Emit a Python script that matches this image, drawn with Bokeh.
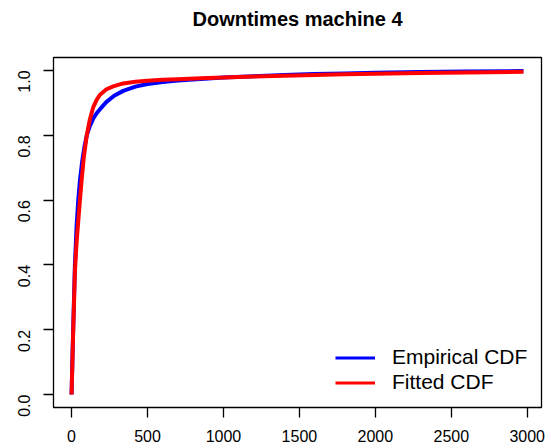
import math
from bokeh.plotting import figure
from bokeh.models import Range1d, FixedTicker, Legend, LegendItem, Title
from bokeh.embed import file_html
from bokeh.resources import INLINE

# Empirical CDF (blue)
emp_x = [0, 5, 11, 22, 33, 44, 55, 70, 85, 100, 120, 143, 165, 190, 230, 280, 340,
         420, 500, 600, 700, 850, 1000, 1200, 1400, 1600, 1800, 2000, 2300, 2600, 2975]
emp_y = [0.0, 0.10, 0.21, 0.40, 0.52, 0.60, 0.66, 0.72, 0.765, 0.80, 0.828, 0.852, 0.868,
         0.882, 0.903, 0.922, 0.937, 0.950, 0.958, 0.964, 0.969, 0.974, 0.978, 0.982,
         0.986, 0.989, 0.991, 0.993, 0.995, 0.997, 0.998]

# Fitted CDF (red)
fit_x = [0, 5, 11, 22, 33, 44, 55, 66, 80, 100, 120, 143, 165, 187, 230, 274, 340,
         420, 500, 600, 700, 850, 1000, 1200, 1400, 1600, 1800, 2000, 2300, 2600, 2975]
fit_y = [0.0, 0.09, 0.20, 0.38, 0.47, 0.535, 0.60, 0.66, 0.73, 0.80, 0.848, 0.887, 0.909,
         0.925, 0.942, 0.951, 0.960, 0.965, 0.968, 0.971, 0.973, 0.976, 0.978, 0.981,
         0.984, 0.986, 0.988, 0.990, 0.992, 0.994, 0.996]

x_ticks = [0, 500, 1000, 1500, 2000, 2500, 3000]
x_tick_labels = ["0", "500", "1000", "1500", "2000", "2500", "3000"]
y_ticks = [0.0, 0.2, 0.4, 0.6, 0.8, 1.0]
y_tick_labels = ["0.0", "0.2", "0.4", "0.6", "0.8", "1.0"]

title_text = "Downtimes machine 4"
series_names = ["Empirical CDF", "Fitted CDF"]

FONT = "Liberation Sans"

p = figure(width=551, height=448, output_backend="svg", toolbar_location=None,
           x_range=Range1d(-119, 3094), y_range=Range1d(-0.04, 1.04),
           min_border_left=53, min_border_right=10, min_border_top=57, min_border_bottom=41,
           title=title_text)

p.title.align = "center"
p.title.text_font = FONT
p.title.text_font_size = "20px"
p.title.text_font_style = "bold"
p.title.text_color = "black"
p.title.standoff = 8

# blank spacer between the title and the frame
p.add_layout(Title(text=" ", text_font_size="10px", standoff=11), "above")

p.outline_line_color = "black"
p.outline_line_width = 1.3
p.grid.visible = False
p.background_fill_color = "white"
p.border_fill_color = "white"

for ax in (p.xaxis[0], p.yaxis[0]):
    ax.axis_line_color = None
    ax.major_tick_out = 10
    ax.major_tick_in = 0
    ax.minor_tick_line_color = None
    ax.major_tick_line_color = "black"
    ax.major_tick_line_width = 1.3
    ax.major_label_text_font = FONT
    ax.major_label_text_font_size = "16px"
    ax.major_label_text_color = "black"

p.xaxis.ticker = FixedTicker(ticks=x_ticks)
p.xaxis.major_label_overrides = {t: l for t, l in zip(x_ticks, x_tick_labels)}
p.xaxis.major_label_standoff = 12
p.yaxis.ticker = FixedTicker(ticks=y_ticks)
p.yaxis.major_label_overrides = {t: l for t, l in zip(y_ticks, y_tick_labels)}
p.yaxis.major_label_orientation = math.pi / 2
p.yaxis.major_label_standoff = 19

p.line(emp_x, emp_y, line_color="#0000FF", line_width=4)
p.line(fit_x, fit_y, line_color="#FF0000", line_width=4)

# legend swatches (single-point lines draw nothing in the plot)
lg_blue = p.line(x=emp_x[:1], y=emp_y[:1], line_color="#0000FF", line_width=3)
lg_red = p.line(x=fit_x[:1], y=fit_y[:1], line_color="#FF0000", line_width=3)

legend = Legend(items=[LegendItem(label=series_names[0], renderers=[lg_blue]),
                       LegendItem(label=series_names[1], renderers=[lg_red])],
                location=(282, 13), border_line_color=None, background_fill_alpha=0,
                padding=0, margin=0, spacing=1, glyph_width=40, glyph_height=23,
                label_height=23, label_standoff=17,
                label_text_font=FONT, label_text_font_size="21px", label_text_color="black")
p.add_layout(legend, "center")

open("out.html", "w").write(file_html(p, INLINE))
